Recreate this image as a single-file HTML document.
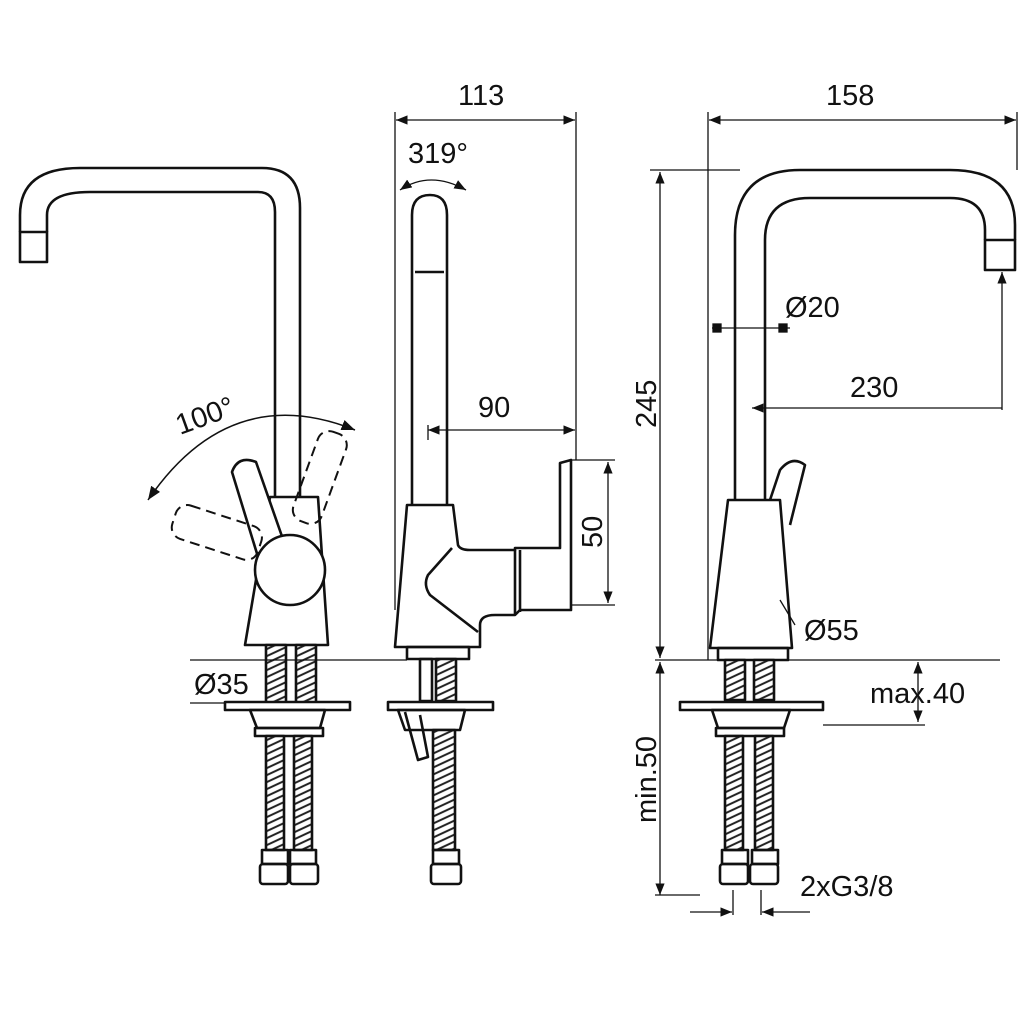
<!DOCTYPE html>
<html><head><style>body{margin:0;background:#fff}svg{display:block}text{font-family:"Liberation Sans",sans-serif;fill:#111}</style></head><body>
<svg width="1024" height="1024" viewBox="0 0 1024 1024" xmlns="http://www.w3.org/2000/svg">
<defs>
<pattern id="h" width="8" height="7" patternUnits="userSpaceOnUse" patternTransform="skewY(-25)">
<rect width="8" height="7" fill="#fff"/><line x1="0" y1="3.5" x2="8" y2="3.5" stroke="#222" stroke-width="2.2"/></pattern>
<marker id="a" viewBox="0 0 10 10" refX="10" refY="5" markerWidth="9" markerHeight="9" orient="auto-start-reverse"><path d="M0,1 L10,5 L0,9z" fill="#111"/></marker>
</defs>
<g fill="none" stroke="#111" stroke-width="2.6" stroke-linejoin="round">
<path d="M20,232 V215 Q20,168 80,168 H262 Q300,168 300,208 V500 M47,232 V215 Q47,192 90,192 H258 Q275,192 275,212 V500"/>
<rect x="20" y="232" width="27" height="30" fill="#fff"/>
<path d="M270,497 H318 L328,645 H245 Z" fill="#fff"/>
<path d="M262,570 L232,472 Q238,455 256,462 L285,545" fill="#fff"/>
<circle cx="290" cy="570" r="35" fill="#fff"/>
<g stroke-dasharray="10,6" stroke-width="2"><rect x="172" y="515" width="90" height="35" rx="12" transform="rotate(18 217 532)"/><rect x="305" y="430" width="30" height="95" rx="12" transform="rotate(20 320 477)"/></g>
<path d="M148,500 Q230,380 355,430" stroke-width="1.5" marker-start="url(#a)" marker-end="url(#a)"/>
<rect x="266" y="645" width="20" height="58" fill="url(#h)"/><rect x="296" y="645" width="20" height="58" fill="url(#h)"/>
<rect x="225" y="702" width="125" height="8" fill="#fff"/>
<path d="M250,710 H325 L320,728 H257 Z"/><rect x="255" y="728" width="68" height="8"/>
<rect x="266" y="736" width="18" height="114" fill="url(#h)"/><rect x="294" y="736" width="18" height="114" fill="url(#h)"/>
<rect x="262" y="850" width="26" height="14"/><rect x="290" y="850" width="26" height="14"/>
<rect x="260" y="864" width="28" height="20" rx="3"/><rect x="290" y="864" width="28" height="20" rx="3"/>
<path d="M412,505 V215 Q412,195 430,195 Q447,195 447,215 V505"/><line x1="415" y1="272" x2="444" y2="272"/>
<path d="M407,505 H453 L458,545 Q460,550 470,550 H515 V548 H560 V463 L571,460 V610 H520 L515,615 H495 Q480,615 480,625 V647 H395 Z" fill="#fff"/>
<path d="M515,550 V614 M520,550 V612"/>
<path d="M452,548 L428,575 Q423,585 430,595 L478,632"/>
<rect x="407" y="647" width="62" height="12"/>
<rect x="420" y="659" width="12" height="42"/><rect x="436" y="659" width="20" height="42" fill="url(#h)"/>
<rect x="388" y="702" width="105" height="8" fill="#fff"/>
<path d="M398,710 H465 L460,730 H405 Z"/><path d="M405,712 L418,760 L428,757 L420,715"/>
<rect x="433" y="730" width="22" height="120" fill="url(#h)"/>
<rect x="433" y="850" width="26" height="14"/><rect x="431" y="864" width="30" height="20" rx="3"/>
<path d="M735,500 V235 Q735,170 800,170 H950 Q1015,170 1015,225 V240 M765,500 V240 Q765,198 810,198 H950 Q985,198 985,230 V240"/>
<rect x="985" y="240" width="30" height="30" fill="#fff"/>
<path d="M770,500 L780,470 Q792,455 805,465 L790,525" fill="#fff"/>
<path d="M728,500 H780 L792,648 H710 Z" fill="#fff"/>
<rect x="718" y="648" width="70" height="12"/>
<rect x="725" y="660" width="20" height="40" fill="url(#h)"/><rect x="754" y="660" width="20" height="40" fill="url(#h)"/>
<rect x="680" y="702" width="143" height="8" fill="#fff"/>
<path d="M712,710 H790 L784,728 H718 Z"/><rect x="716" y="728" width="68" height="8"/>
<rect x="725" y="736" width="18" height="114" fill="url(#h)"/><rect x="755" y="736" width="18" height="114" fill="url(#h)"/>
<rect x="722" y="850" width="26" height="14"/><rect x="752" y="850" width="26" height="14"/>
<rect x="720" y="864" width="28" height="20" rx="3"/><rect x="750" y="864" width="28" height="20" rx="3"/>
</g>
<g fill="none" stroke="#111" stroke-width="1.3">
<path d="M395,112 V610 M576,112 V460"/>
<path d="M396,120 H575" marker-start="url(#a)" marker-end="url(#a)"/>
<path d="M428,430 H575" marker-start="url(#a)" marker-end="url(#a)"/><path d="M428,425 V440"/>
<path d="M572,460 H615 M572,605 H615"/><path d="M608,462 V603" marker-start="url(#a)" marker-end="url(#a)"/>
<path d="M400,190 Q430,170 466,190" marker-start="url(#a)" marker-end="url(#a)"/>
<path d="M190,660 H407 M190,703 H225"/>
<path d="M708,112 V660 M1017,112 V170"/><path d="M709,120 H1016" marker-start="url(#a)" marker-end="url(#a)"/>
<path d="M650,170 H740 M655,660 H1000"/><path d="M660,172 V658" marker-start="url(#a)" marker-end="url(#a)"/>
<path d="M660,662 V895" marker-start="url(#a)" marker-end="url(#a)"/><path d="M655,895 H700"/>
<path d="M1002,272 V410" marker-start="url(#a)"/><path d="M752,408 H1002" marker-start="url(#a)"/>
<path d="M712,328 H790"/><rect x="713" y="324" width="8" height="8" fill="#111"/><rect x="779" y="324" width="8" height="8" fill="#111"/>
<path d="M780,600 L795,625"/>
<path d="M918,662 V722" marker-start="url(#a)" marker-end="url(#a)"/><path d="M823,725 H925"/>
<path d="M733,890 V915 M761,890 V915"/><path d="M690,912 H732" marker-end="url(#a)"/><path d="M810,912 H762" marker-end="url(#a)"/>
</g>
<g font-size="29">
<text x="458" y="105">113</text><text x="826" y="105">158</text>
<text x="408" y="163">319°</text>
<text x="180" y="435" transform="rotate(-20 180 435)">100°</text>
<text x="478" y="417">90</text>
<text x="602" y="548" transform="rotate(-90 602 548)">50</text>
<text x="656" y="428" transform="rotate(-90 656 428)">245</text>
<text x="785" y="317">Ø20</text>
<text x="850" y="397">230</text>
<text x="804" y="640">Ø55</text>
<text x="194" y="694">Ø35</text>
<text x="870" y="703">max.40</text>
<text x="656" y="823" transform="rotate(-90 656 823)">min.50</text>
<text x="800" y="896">2xG3/8</text>
</g>
</svg>
</body></html>
